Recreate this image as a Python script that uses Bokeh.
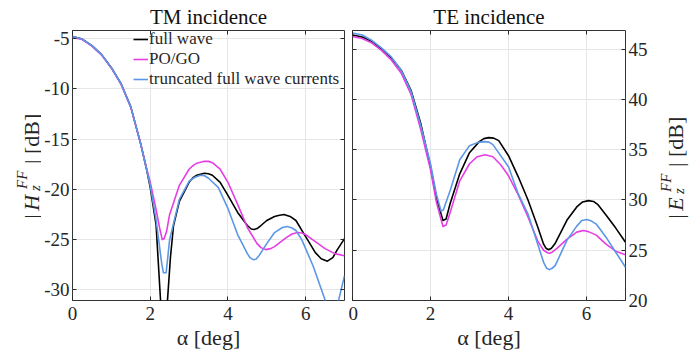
from bokeh.plotting import figure
from bokeh.models import Legend, LegendItem, Label, FixedTicker, LinearAxis, Range1d
from bokeh.layouts import row
from bokeh.embed import file_html
from bokeh.resources import INLINE

# ---------------- data: TM incidence (|H_z^FF| [dB]) ----------------
tm_full_alpha = [0, 0.25, 0.5, 0.75, 1.0, 1.25, 1.5, 1.75, 1.9, 2.0, 2.15, 2.27, 2.35, 2.44, 2.52,
                 2.6, 2.75, 3.0, 3.1, 3.2, 3.39, 3.5, 3.6, 3.8, 4.0, 4.25, 4.5, 4.6, 4.67, 4.75, 4.85,
                 5.0, 5.2, 5.3, 5.44, 5.6, 5.75, 6.0, 6.25, 6.4, 6.56, 6.7, 6.8, 7.0]
tm_full_db = [-4.8, -5.05, -5.7, -6.6, -7.9, -9.5, -11.8, -15.4, -17.9, -19.8, -23.5, -31.3, -42.0, -31.3, -26.8,
              -23.6, -21.2, -19.3, -18.85, -18.6, -18.4, -18.45, -18.6, -19.3, -20.6, -22.3, -23.6, -23.95, -24.0, -23.9, -23.6,
              -23.1, -22.7, -22.6, -22.5, -22.7, -23.1, -24.7, -26.3, -26.9, -27.15, -26.8, -26.1, -24.9]

tm_pogo_alpha = [0, 0.25, 0.5, 0.75, 1.0, 1.25, 1.5, 1.75, 1.9, 2.0, 2.15, 2.25, 2.31, 2.36, 2.42, 2.5,
                 2.75, 3.0, 3.1, 3.2, 3.39, 3.5, 3.6, 3.8, 4.0, 4.25, 4.5, 4.75, 4.85, 4.97, 5.1, 5.2,
                 5.5, 5.65, 5.79, 5.9, 6.0, 6.25, 6.5, 6.75, 7.0]
tm_pogo_db = [-4.9, -5.1, -5.75, -6.65, -7.95, -9.55, -11.85, -15.4, -17.8, -19.3, -22.0, -24.0, -25.0, -24.9, -24.2, -22.5,
              -19.6, -18.0, -17.65, -17.4, -17.2, -17.22, -17.35, -18.0, -19.3, -21.5, -23.8, -25.4, -25.8, -26.0, -25.9, -25.7,
              -24.8, -24.45, -24.3, -24.35, -24.5, -25.2, -25.9, -26.4, -26.6]

tm_trunc_alpha = [0, 0.25, 0.5, 0.75, 1.0, 1.25, 1.5, 1.75, 1.9, 2.0, 2.15, 2.3, 2.34, 2.41, 2.5, 2.75,
                  3.0, 3.15, 3.29, 3.4, 3.5, 3.75, 4.0, 4.25, 4.5, 4.57, 4.65, 4.72, 4.8, 5.0, 5.2, 5.4,
                  5.53, 5.65, 5.75, 5.9, 6.2, 6.5, 6.68, 6.85, 7.0]
tm_trunc_db = [-4.8, -5.05, -5.7, -6.6, -7.9, -9.5, -11.8, -15.4, -17.9, -19.6, -23.0, -27.5, -28.3, -28.3, -25.0, -21.0,
               -19.2, -18.8, -18.6, -18.65, -18.9, -19.8, -21.9, -24.5, -26.4, -26.8, -27.0, -26.95, -26.6, -25.4, -24.3, -23.8,
               -23.7, -23.85, -24.1, -25.0, -27.7, -31.0, -32.5, -31.0, -28.6]

# ---------------- data: TE incidence (|E_z^FF| [dB]) ----------------
te_full_alpha = [0, 0.25, 0.5, 0.75, 1.0, 1.25, 1.5, 1.75, 2.0, 2.15, 2.32, 2.4, 2.5, 2.75, 3.0, 3.25,
                 3.37, 3.49, 3.62, 3.75, 4.0, 4.25, 4.5, 4.75, 4.9, 4.96, 5.03, 5.1, 5.2, 5.5, 5.75, 5.9,
                 6.05, 6.18, 6.3, 6.5, 6.75, 7.0]
te_full_db = [46.4, 46.2, 45.75, 45.0, 44.1, 42.9, 40.9, 37.6, 33.3, 30.2, 27.95, 28.1, 29.6, 32.6, 34.7, 35.8,
              36.1, 36.2, 36.15, 35.9, 34.4, 32.3, 30.0, 27.3, 25.6, 25.2, 25.05, 25.2, 25.7, 28.0, 29.3, 29.8,
              29.93, 29.85, 29.5, 28.5, 27.2, 25.8]

te_pogo_alpha = [0, 0.25, 0.5, 0.75, 1.0, 1.25, 1.5, 1.75, 2.0, 2.15, 2.32, 2.4, 2.5, 2.75, 3.0, 3.2,
                 3.4, 3.6, 3.8, 4.0, 4.25, 4.5, 4.75, 4.9, 5.0, 5.05, 5.12, 5.25, 5.5, 5.75, 5.85, 5.92,
                 6.05, 6.25, 6.5, 6.75, 7.0]
te_pogo_db = [46.25, 46.05, 45.6, 44.85, 43.9, 42.6, 40.5, 37.0, 33.0, 29.8, 27.36, 27.5, 28.7, 31.9, 33.6, 34.3,
              34.5, 34.3, 33.5, 32.4, 30.5, 28.3, 25.9, 25.0, 24.75, 24.7, 24.8, 25.2, 26.1, 26.8, 26.9, 26.96,
              26.85, 26.5, 25.6, 24.9, 24.55]

te_trunc_alpha = [0, 0.25, 0.5, 0.75, 1.0, 1.25, 1.5, 1.75, 2.0, 2.15, 2.27, 2.33, 2.5, 2.75, 3.0, 3.2,
                  3.36, 3.5, 3.6, 4.0, 4.25, 4.5, 4.75, 4.9, 4.98, 5.05, 5.12, 5.2, 5.5, 5.75, 5.88, 6.01,
                  6.13, 6.25, 6.5, 6.75, 7.0]
te_trunc_db = [46.6, 46.4, 45.85, 45.1, 44.2, 42.9, 40.8, 37.4, 33.6, 30.6, 28.9, 29.0, 30.9, 34.0, 35.4, 35.7,
               35.8, 35.75, 35.5, 33.3, 30.6, 28.6, 25.6, 23.8, 23.2, 23.07, 23.2, 23.5, 26.0, 27.4, 27.95, 28.05,
               27.9, 27.6, 26.3, 24.8, 23.3]

x_ticks = [0, 2, 4, 6]
tm_y_ticks = [-30, -25, -20, -15, -10, -5]
te_y_ticks = [20, 25, 30, 35, 40, 45]
series_names = ["full wave", "PO/GO", "truncated full wave currents"]
series_colors = ["#000000", "#E53FE3", "#5B97E6"]
panel_titles = ["TM incidence", "TE incidence"]
x_label = "α [deg]"
y_letters = ["H", "E"]

FONT = "Liberation Serif"
TXT = "#262626"
GRID = "#e6e6e6"
H = 358
TOP, BOTTOM = 29, 58


def style_axis(ax, ticks, labels=True):
    ax.ticker = FixedTicker(ticks=ticks)
    ax.major_tick_in = 4
    ax.major_tick_out = 0
    ax.major_tick_line_color = TXT
    ax.minor_tick_line_color = None
    ax.axis_line_color = None
    ax.major_label_text_font = FONT
    ax.major_label_text_color = TXT
    if labels:
        ax.major_label_overrides = {t: str(t) for t in ticks}
        ax.major_label_text_font_size = "19px"
        ax.major_label_standoff = 4
    else:
        ax.major_label_overrides = {t: "" for t in ticks}
        ax.major_label_text_font_size = "0px"
        ax.major_label_standoff = 0


def make_fig(title, yr, yticks, yloc, width, bl, br):
    p = figure(width=width, height=H, x_range=Range1d(0, 7), y_range=Range1d(*yr),
               output_backend="svg", toolbar_location=None, y_axis_location=yloc,
               min_border_left=bl, min_border_right=br, min_border_top=TOP, min_border_bottom=BOTTOM)
    p.title.text = title
    p.title.text_font = FONT
    p.title.text_font_size = "21px"
    p.title.text_font_style = "normal"
    p.title.text_color = "#111111"
    p.title.align = "center"
    p.title.standoff = 4
    p.outline_line_color = "#333333"
    p.outline_line_width = 1
    style_axis(p.xaxis[0], x_ticks)
    p.xaxis[0].major_label_standoff = 6
    p.xaxis[0].axis_label = x_label
    p.xaxis[0].axis_label_text_font = FONT
    p.xaxis[0].axis_label_text_font_size = "22px"
    p.xaxis[0].axis_label_text_font_style = "normal"
    p.xaxis[0].axis_label_text_color = TXT
    p.xaxis[0].axis_label_standoff = 2
    style_axis(p.yaxis[0], yticks)
    p.yaxis[0].major_label_standoff = 3
    p.xgrid.ticker = FixedTicker(ticks=x_ticks)
    p.ygrid.ticker = FixedTicker(ticks=yticks)
    p.grid.grid_line_color = GRID
    p.grid.grid_line_width = 1
    # mirrored tick-only axes
    top = LinearAxis()
    style_axis(top, x_ticks, labels=False)
    p.add_layout(top, "above")
    side = LinearAxis()
    style_axis(side, yticks, labels=False)
    p.add_layout(side, "right" if yloc == "left" else "left")
    p.background_fill_color = "white"
    p.border_fill_color = "white"
    return p


def label_fig(width, x0, letter, ys):
    # this figure's frame lines up with its neighbours' frames, so its y range
    # runs over the same band of the page (pixels counted up from the bottom)
    f = figure(width=width, height=H, x_range=Range1d(0, width), y_range=Range1d(BOTTOM, H - TOP),
               output_backend="svg", toolbar_location=None,
               x_axis_location=None, y_axis_location=None, min_border=0)
    f.outline_line_color = None
    f.grid.visible = False
    y_bar, y_let, y_sup, y_sub, y_rest = ys
    parts = [
        ("|", "normal", "22px", x0, y_bar),
        (letter, "italic", "22px", x0, y_let),
        ("FF", "italic", "15px", x0 - 10, y_sup),
        ("z", "italic", "15px", x0 + 3, y_sub),
        ("| [dB]", "normal", "22px", x0, y_rest),
    ]
    for txt, style, size, x, y in parts:
        f.add_layout(Label(x=x, y=y, text=txt, angle=1.5707963,
                           text_font=FONT, text_font_style=style, text_font_size=size,
                           text_color=TXT, text_align="left", text_baseline="alphabetic"))
    return f


fl = label_fig(41, 31, y_letters[0], (140, 148, 170, 168, 195))
p1 = make_fig(panel_titles[0], (-31.06, -4.2), tm_y_ticks, "left", 307, 30, 4)
p2 = make_fig(panel_titles[1], (20, 46.85), te_y_ticks, "right", 302, 4, 25)
fr = label_fig(44, 25, y_letters[1], (140, 148, 167, 165, 192))

tm_data = [(tm_full_alpha, tm_full_db), (tm_pogo_alpha, tm_pogo_db), (tm_trunc_alpha, tm_trunc_db)]
te_data = [(te_full_alpha, te_full_db), (te_pogo_alpha, te_pogo_db), (te_trunc_alpha, te_trunc_db)]

items = []
for (a, d), name, col in zip(tm_data, series_names, series_colors):
    r = p1.line(a, d, line_color=col, line_width=1.6, line_join="round")
    items.append(LegendItem(label=name, renderers=[r]))
for (a, d), col in zip(te_data, series_colors):
    p2.line(a, d, line_color=col, line_width=1.6, line_join="round")

leg = Legend(items=items, location=(61, 211), orientation="vertical",
             background_fill_alpha=0, border_line_alpha=0, padding=0, margin=0, spacing=0,
             glyph_width=15, glyph_height=18, label_height=18, label_standoff=1,
             label_text_font=FONT, label_text_font_size="17px", label_text_color=TXT)
p1.add_layout(leg, "center")

layout = row(fl, p1, p2, fr)
open("out.html", "w").write(file_html(layout, INLINE))
